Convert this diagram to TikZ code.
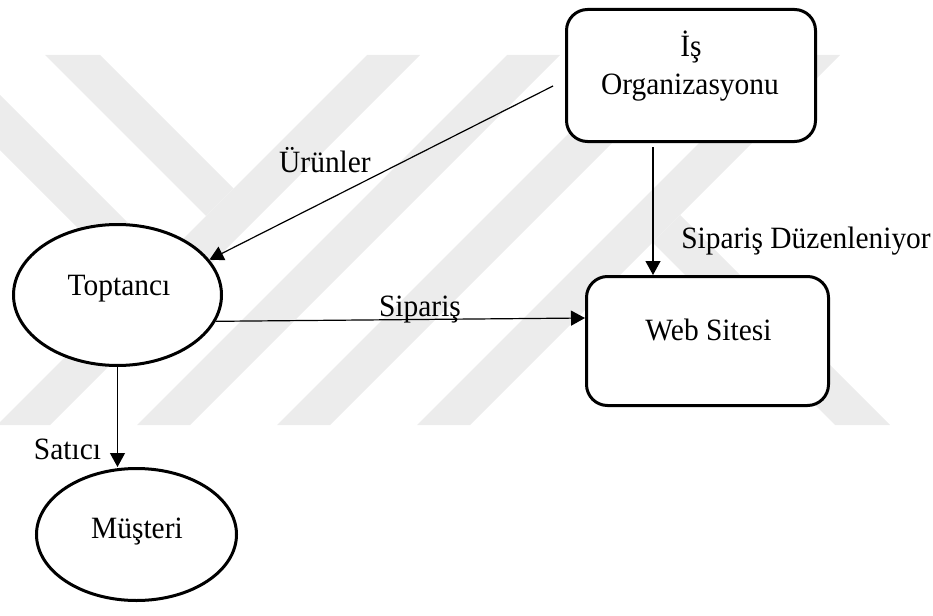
\documentclass[tikz,border=0pt]{standalone}
\usepackage{fontspec}
\setmainfont{Liberation Serif}[FakeStretch=0.95]
\usetikzlibrary{shapes.geometric,arrows.meta}
\definecolor{wmgray}{RGB}{236,236,236}
\tikzset{
  procbox/.style={draw=black, line width=3pt, rounded corners=21pt, fill=white, inner sep=0pt},
  actor/.style={draw=black, line width=3pt, ellipse, fill=white, inner sep=0pt},
  lbl/.style={font=\fontsize{31}{38}\selectfont, inner sep=0pt, anchor=base},
  flow/.style={draw=black, line width=1.2pt, -{Triangle[length=14pt,width=15pt]}},
  stripe/.style={fill=wmgray, draw=none}
}
\begin{document}
\begin{tikzpicture}[x=1pt,y=-1pt]
\useasboundingbox (0,0) rectangle (933,615);

% faint striped emblem in the background
\fill[stripe] (367,55) -- (420,55) -- (50,425) -- (-3,425) -- cycle;
\fill[stripe] (507,55) -- (560,55) -- (190,425) -- (137,425) -- cycle;
\fill[stripe] (647,55) -- (700,55) -- (330,425) -- (277,425) -- cycle;
\fill[stripe] (787,55) -- (840,55) -- (470,425) -- (417,425) -- cycle;
\fill[stripe] (45,55) -- (100,55) -- (233.5,188.5) -- (206,216) -- cycle;
\fill[stripe] (0,95) -- (163.5,258.5) -- (136,286) -- (0,150) -- cycle;
\fill[stripe] (680,215) -- (890,425) -- (835,425) -- (652.5,242.5) -- cycle;

% actors and processes
\node[procbox, minimum width=249pt, minimum height=132pt] (org) at (691,75.5) {};
\node[procbox, minimum width=242pt, minimum height=129pt] (web) at (707.5,341) {};
\node[actor, minimum width=208pt, minimum height=141pt] (top) at (117.5,295) {};
\node[actor, minimum width=200pt, minimum height=132pt] (mus) at (136.5,534.5) {};

% texts inside the shapes
\node[lbl] (orgline1) at (691,57) {İş};
\node[lbl] (orgline2) at (690,94.5) {Organizasyonu};
\node[lbl] (webtxt) at (708.5,340) {Web Sitesi};
\node[lbl] (toptxt) at (119,295) {Toptancı};
\node[lbl] (mustxt) at (137,538) {Müşteri};

% flows
\coordinate (prodsrc) at (553,86);
\draw[flow] (prodsrc) -- (top.21);
\draw[flow] ([xshift=-38pt,yshift=-4pt]org.south) -- ([xshift=-54.5pt]web.north);
\draw[flow] (top.-15.2) -- ([yshift=23pt]web.west);
\draw[flow] (top.south) -- (top.south |- mus.north);

% flow labels
\node[lbl] (lprod) at (325,172) {Ürünler};
\node[lbl] (lorder) at (420,316) {Sipariş};
\node[lbl] (larr) at (806,248) {Sipariş Düzenleniyor};
\node[lbl] (lsell) at (67.5,459) {Satıcı};
\end{tikzpicture}
\end{document}
